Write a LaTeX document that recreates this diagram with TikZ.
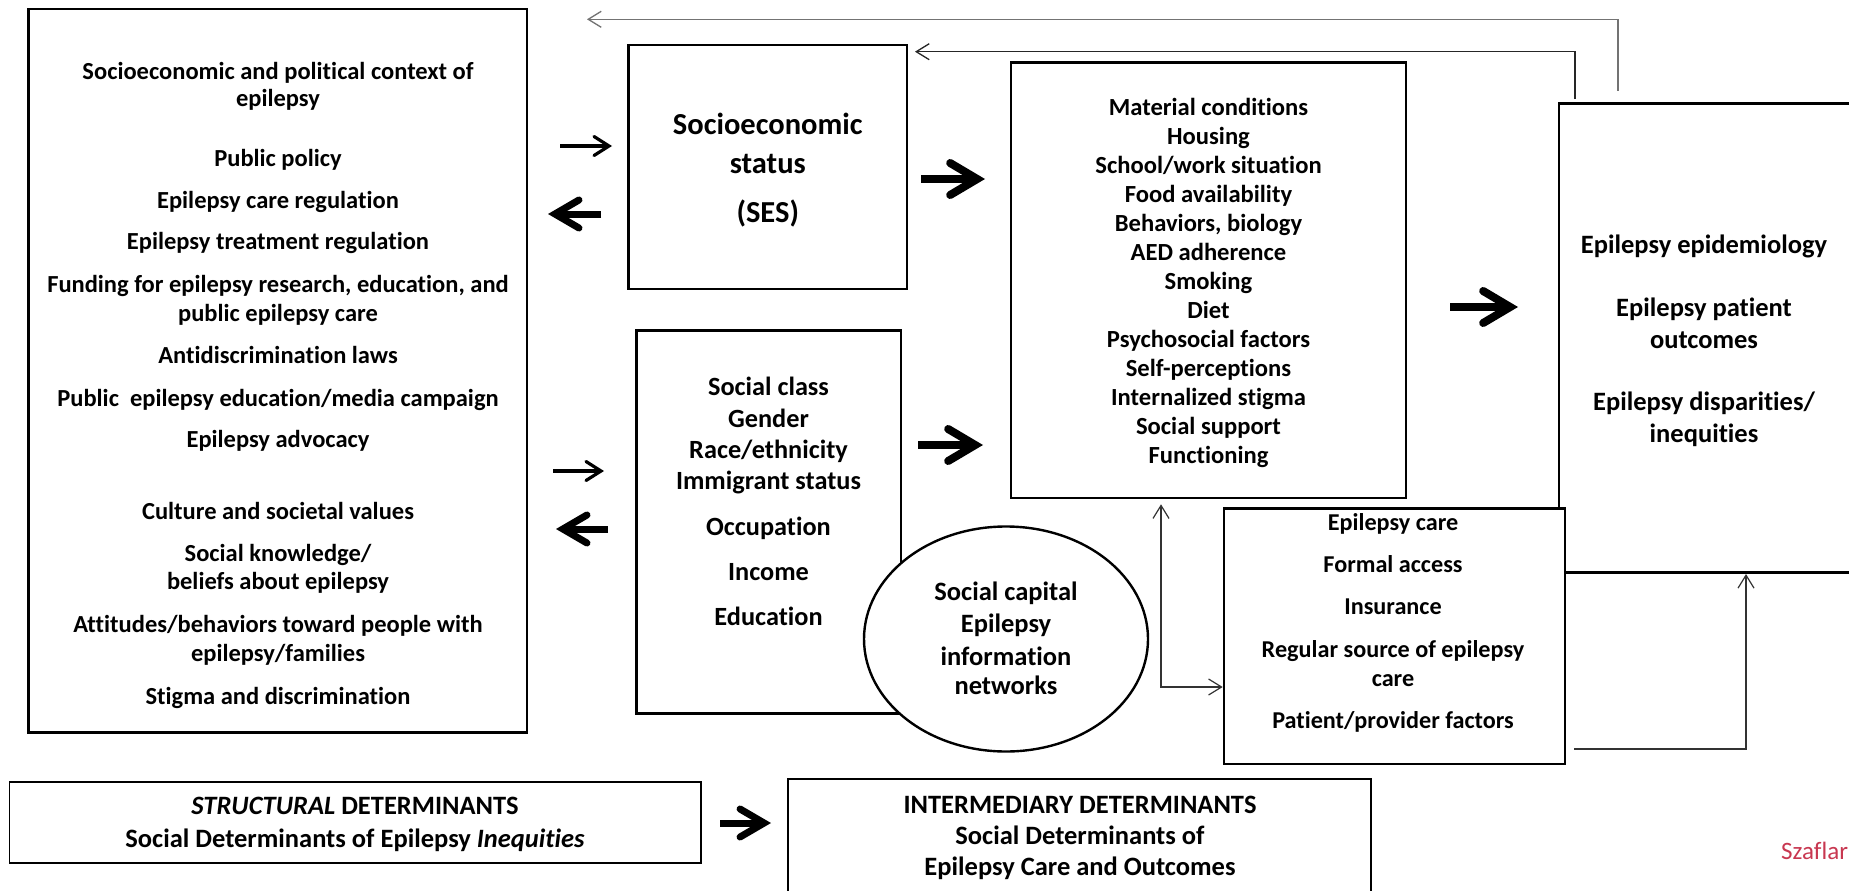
\documentclass[tikz,border=0pt]{standalone}
\usepackage{fontspec}
\setmainfont{Carlito}[Ligatures=NoCommon]
\usetikzlibrary{arrows.meta,shapes.geometric}
\newcommand{\fsz}[1]{\fontsize{#1}{#1}\selectfont}
\begin{document}
\begin{tikzpicture}[x=1pt,y=-1pt,
  box/.style={draw, rectangle, line width=2.6pt, fill=white, inner sep=0pt},
  boxthin/.style={draw, rectangle, line width=1.8pt, fill=white, inner sep=0pt},
  oval/.style={draw, ellipse, line width=2.4pt, fill=white, inner sep=0pt},
  tl/.style={anchor=base, inner sep=0pt, font=\bfseries\fsz{24.5}},
  tlk/.style={anchor=base, inner sep=0pt, font=\bfseries\fsz{26.3}},
  tle/.style={anchor=base, inner sep=0pt, font=\bfseries\fsz{26.5}},
  tlo/.style={anchor=base, inner sep=0pt, font=\bfseries\fsz{26.5}},
  tlb/.style={anchor=base, inner sep=0pt, font=\bfseries\fsz{26.5}},
  tli/.style={anchor=base, inner sep=0pt, font=\bfseries\fsz{26.5}},
  tlm/.style={anchor=base, inner sep=0pt, font=\bfseries\fsz{24.6}},
  tlp/.style={anchor=base, inner sep=0pt, font=\bfseries\fsz{24.2}},
  tlses/.style={anchor=base, inner sep=0pt, font=\bfseries\fsz{30.5}},
  fbline/.style={line width=1.3pt, -{Straight Barb[length=13pt,width=16pt]}},
  bigarrow/.style={line width=8pt, -{Straight Barb[length=27pt,width=32pt,line cap=round,line join=miter]}},
  midarrow/.style={line width=7pt, -{Straight Barb[length=24pt,width=28pt,line cap=round,line join=miter]}},
  smallarrow/.style={line width=3.2pt, -{Straight Barb[length=15pt,width=19pt,line cap=round,line join=miter]}}
]
\useasboundingbox (0,0) rectangle (1849,891);
\fill[white] (0,0) rectangle (1849,891);

% ---------------- boxes ----------------
\node[box, minimum width=498.5pt, minimum height=723.7pt] (ctx) at (277.75,370.85) {};
\node[box, minimum width=278.5pt, minimum height=244pt] (ses) at (767.75,167) {};
\node[box, minimum width=264.3pt, minimum height=382.6pt] (soc) at (768.85,522) {};
\node[oval, minimum width=284pt, minimum height=225pt] (cap) at (1006,639) {};
\node[box, minimum width=395pt, minimum height=435.7pt] (mat) at (1208.5,280.15) {};
\node[box, minimum width=321pt, minimum height=469.4pt] (out) at (1719.5,338) {};
\node[box, minimum width=341pt, minimum height=255.7pt] (care) at (1394.5,636.15) {};
\node[boxthin, minimum width=691.5pt, minimum height=80.7pt] (struct) at (355.25,822.35) {};
\node[boxthin, minimum width=583pt, minimum height=121pt] (inter) at (1079.5,839.5) {};

% ---------------- left box text ----------------
\node[tl] (c1) at (278,79) {Socioeconomic and political context of};
\node[tl] (c2) at (278,106) {epilepsy};
\node[tl] (c3) at (278,166) {Public policy};
\node[tl] (c4) at (278,208) {Epilepsy care regulation};
\node[tl] (c5) at (278,249) {Epilepsy treatment regulation};
\node[tl] (c6) at (278,292) {Funding for epilepsy research, education, and};
\node[tl] (c7) at (278,321) {public epilepsy care};
\node[tl] (c8) at (278,363) {Antidiscrimination laws};
\node[tl] (c9) at (278,406) {Public\ \ epilepsy education/media campaign};
\node[tl] (c10) at (278,447) {Epilepsy advocacy};
\node[tl] (c11) at (278,519) {Culture and societal values};
\node[tl] (c12) at (278,561) {Social knowledge/};
\node[tl] (c13) at (278,589) {beliefs about epilepsy};
\node[tl] (c14) at (278,632) {Attitudes/behaviors toward people with};
\node[tl] (c15) at (278,661) {epilepsy/families};
\node[tl] (c16) at (278,704) {Stigma and discrimination};

% ---------------- SES ----------------
\node[tlses] (s1) at (767.75,134) {Socioeconomic};
\node[tlses] (s2) at (767.75,173) {status};
\node[tlses] (s3) at (767.75,222) {(SES)};

% ---------------- social class ----------------
\node[tlk] (k1) at (768.5,395) {Social class};
\node[tlk] (k2) at (768.5,427) {Gender};
\node[tlk] (k3) at (768.5,458) {Race/ethnicity};
\node[tlk] (k4) at (768.5,489) {Immigrant status};
\node[tlk] (k5) at (768.5,535) {Occupation};
\node[tlk] (k6) at (768.5,580) {Income};
\node[tlk] (k7) at (768.5,625) {Education};

% ---------------- social capital ----------------
\node[tle] (e1) at (1006,600) {Social capital};
\node[tle] (e2) at (1006,632) {Epilepsy};
\node[tle] (e3) at (1006,665) {information};
\node[tle] (e4) at (1006,694) {networks};

% ---------------- material ----------------
\node[tlm] (m1) at (1208.5,115) {Material conditions};
\node[tlm] (m2) at (1208.5,144) {Housing};
\node[tlm] (m3) at (1208.5,173) {School/work situation};
\node[tlm] (m4) at (1208.5,202) {Food availability};
\node[tlm] (m5) at (1208.5,231) {Behaviors, biology};
\node[tlm] (m6) at (1208.5,260) {AED adherence};
\node[tlm] (m7) at (1208.5,289) {Smoking};
\node[tlm] (m8) at (1208.5,318) {Diet};
\node[tlm] (m9) at (1208.5,347) {Psychosocial factors};
\node[tlm] (m10) at (1208.5,376) {Self-perceptions};
\node[tlm] (m11) at (1208.5,405) {Internalized stigma};
\node[tlm] (m12) at (1208.5,434) {Social support};
\node[tlm] (m13) at (1208.5,463) {Functioning};

% ---------------- care ----------------
\node[tlp] (p1) at (1393,530) {Epilepsy care};
\node[tlp] (p2) at (1393,572) {Formal access};
\node[tlp] (p3) at (1393,614) {Insurance};
\node[tlp] (p4) at (1393,657) {Regular source of epilepsy};
\node[tlp] (p5) at (1393,686) {care};
\node[tlp] (p6) at (1393,728) {Patient/provider factors};

% ---------------- outcomes ----------------
\node[tlo] (o1) at (1704,253) {Epilepsy epidemiology};
\node[tlo] (o2) at (1704,316) {Epilepsy patient};
\node[tlo] (o3) at (1704,348) {outcomes};
\node[tlo] (o4) at (1704,410) {Epilepsy disparities/};
\node[tlo] (o5) at (1704,442) {inequities};

% ---------------- bottom ----------------
\node[tlb] (b1) at (355,814) {\itshape STRUCTURAL\upshape\ DETERMINANTS};
\node[tlb] (b2) at (355,847) {Social Determinants of Epilepsy \itshape Inequities};
\node[tli] (i1) at (1080,813) {INTERMEDIARY DETERMINANTS};
\node[tli] (i2) at (1080,844) {Social Determinants of};
\node[tli] (i3) at (1080,875) {Epilepsy Care and Outcomes};

\node[anchor=base west, inner sep=0pt, font=\fsz{25}, text={rgb,255:red,200;green,55;blue,80}] (cite) at (1781,859) {Szaflar};

% ---------------- feedback lines ----------------
\coordinate (f1a) at (1618,90.7);
\coordinate (f1b) at (1618,19.3);
\coordinate (f1c) at (587,19.3);
\draw[fbline, draw=black!55] (f1a) -- (f1b) -- (f1c);
\coordinate (f2a) at (1575,99);
\coordinate (f2b) at (1575,51.7);
\coordinate (f2c) at (915,51.7);
\draw[fbline, draw=black!85] (f2a) -- (f2b) -- (f2c);

\coordinate (j1) at (1161,687);
\draw[line width=1.2pt, draw=black!80, {Straight Barb[length=13pt,width=16pt]}-{Straight Barb[length=13pt,width=16pt]}] (j1 |- mat.south) ++(0,5) -- (j1) -- (care.west |- j1);
\coordinate (j2a) at (1574,749);
\coordinate (j2b) at (1746,749);
\draw[fbline, line width=1.2pt, draw=black!80] (j2a) -- (j2b) -- (j2b |- out.south);

% ---------------- block arrows ----------------
\coordinate (a1s) at (560,146);   \coordinate (a1e) at (612,146);
\draw[smallarrow] (a1s) -- (a1e);
\coordinate (a2s) at (601,214);   \coordinate (a2e) at (548,214);
\draw[midarrow] (a2s) -- (a2e);
\coordinate (a3s) at (921,179);   \coordinate (a3e) at (985,179);
\draw[bigarrow] (a3s) -- (a3e);
\coordinate (a4s) at (918,445);   \coordinate (a4e) at (983,445);
\draw[bigarrow] (a4s) -- (a4e);
\coordinate (a5s) at (553,471);   \coordinate (a5e) at (604,471);
\draw[smallarrow] (a5s) -- (a5e);
\coordinate (a6s) at (608,529);   \coordinate (a6e) at (556,529);
\draw[midarrow] (a6s) -- (a6e);
\coordinate (a7s) at (1450,307);  \coordinate (a7e) at (1518,307);
\draw[bigarrow] (a7s) -- (a7e);
\coordinate (a8s) at (720,823);   \coordinate (a8e) at (771,823);
\draw[midarrow] (a8s) -- (a8e);
\end{tikzpicture}
\end{document}
